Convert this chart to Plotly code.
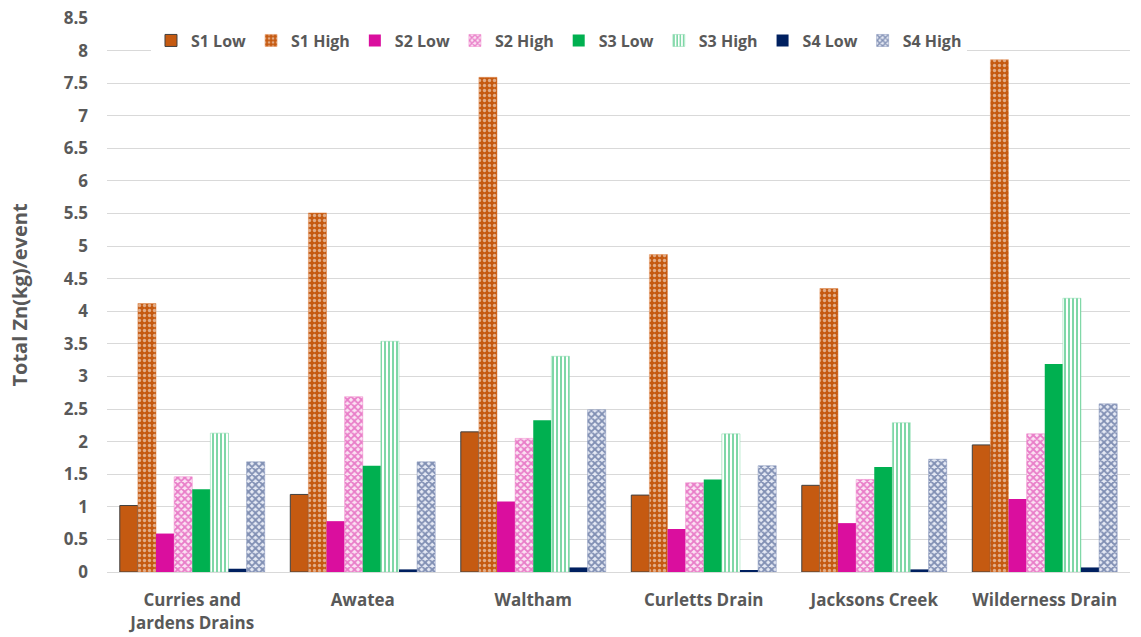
import plotly.graph_objects as go

sites = ["Curries and<br>Jardens Drains", "Awatea", "Waltham",
         "Curletts Drain", "Jacksons Creek", "Wilderness Drain"]

s1_low = [1.02, 1.19, 2.15, 1.18, 1.33, 1.95]
s1_high = [4.12, 5.51, 7.59, 4.87, 4.35, 7.86]
s2_low = [0.59, 0.78, 1.08, 0.66, 0.75, 1.12]
s2_high = [1.46, 2.69, 2.05, 1.37, 1.42, 2.12]
s3_low = [1.27, 1.63, 2.33, 1.42, 1.61, 3.19]
s3_high = [2.13, 3.54, 3.31, 2.12, 2.29, 4.20]
s4_low = [0.05, 0.04, 0.07, 0.03, 0.04, 0.07]
s4_high = [1.69, 1.69, 2.49, 1.63, 1.73, 2.58]

ORANGE = "#C55A11"
MAGENTA = "#DA0E9E"
PINK = "#D6189E"
GREEN = "#00B050"
NAVY = "#002060"
NAVY_HATCH = "#1A3372"

series = [
    ("S1 Low", s1_low, dict(color=ORANGE, line=dict(color="#404040", width=1))),
    ("S1 High", s1_high, dict(color=ORANGE,
                              pattern=dict(shape=".", bgcolor=ORANGE, fgcolor="#FFFFFF",
                                           size=5, solidity=0.35),
                              line=dict(color="#E08A50", width=0.5))),
    ("S2 Low", s2_low, dict(color=MAGENTA, line=dict(width=0))),
    ("S2 High", s2_high, dict(color=PINK,
                              pattern=dict(shape="x", bgcolor="#FBE3F3", fgcolor=PINK,
                                           size=5, solidity=0.6),
                              line=dict(color="#F080C8", width=0.5))),
    ("S3 Low", s3_low, dict(color=GREEN, line=dict(width=0))),
    ("S3 High", s3_high, dict(color=GREEN,
                              pattern=dict(shape="|", bgcolor="#FFFFFF", fgcolor=GREEN,
                                           size=4, solidity=0.5),
                              line=dict(color="#80D8A8", width=0.5))),
    ("S4 Low", s4_low, dict(color=NAVY, line=dict(width=0))),
    ("S4 High", s4_high, dict(color=NAVY_HATCH,
                              pattern=dict(shape="x", bgcolor="#E6EAF4", fgcolor=NAVY_HATCH,
                                           size=5, solidity=0.6),
                              line=dict(color="#8090B8", width=0.5))),
]

fig = go.Figure()
for name, vals, marker in series:
    fig.add_trace(go.Bar(name=name, x=sites, y=vals, marker=marker))

GREY = "#595959"
FONT = "Open Sans"

fig.update_layout(
    width=1141, height=637,
    barmode="group", bargap=0.15, bargroupgap=0,
    plot_bgcolor="#FFFFFF", paper_bgcolor="#FFFFFF",
    margin=dict(l=107, r=11, t=18, b=65),
    font=dict(family=FONT, color=GREY),
    legend=dict(orientation="h", x=0.043, xanchor="left", y=0.99, yanchor="top",
                bgcolor="#FFFFFF", font=dict(size=16, color=GREY, family=FONT, weight="bold"),
                itemwidth=30, traceorder="normal"),
    xaxis=dict(showgrid=False, showline=True, linecolor="#D9D9D9", linewidth=1,
               ticks="", automargin=False, ticklabelstandoff=13,
               tickfont=dict(size=17, color=GREY, family=FONT, weight="bold")),
    yaxis=dict(range=[0, 8.5], dtick=0.5, showgrid=True, gridcolor="#D9D9D9",
               gridwidth=1, zeroline=False, showline=False, ticks="",
               automargin=False, ticklabelstandoff=18,
               tickfont=dict(size=17, color=GREY, family=FONT, weight="bold"),
               title=dict(text="Total Zn(kg)/event", standoff=30,
                          font=dict(size=20, color=GREY, family=FONT, weight="bold"))),
)

fig.write_html("out.html")
